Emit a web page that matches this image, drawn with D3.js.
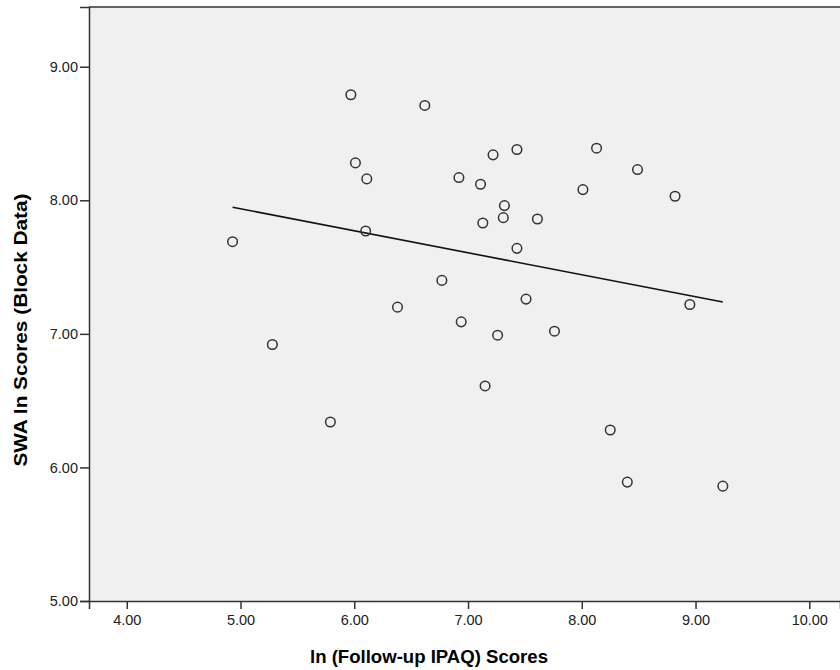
<!DOCTYPE html>
<html lang="en">
<head>
    <meta charset="UTF-8">
    <title>SWA vs IPAQ scatter</title>
    <style>
        body { margin: 0; background: #fff; font-family: "Liberation Sans", Arial, sans-serif; }
        .tick text { font-size: 14.5px; fill: #222; }
        .axis path, .axis line { stroke: #333; stroke-width: 1.5px; }
        .title { font-weight: bold; fill: #000; }
    </style>
</head>
<body>
    <svg width="840" height="670"></svg>
    <script src="https://d3js.org/d3.v7.min.js"></script>
    <script>
        // ln follow-up IPAQ scores (x) and SWA ln scores (y)
        const ipaq = [4.93, 5.28, 5.79, 5.97, 6.01, 6.11, 6.10, 6.38, 6.62, 6.77, 6.92,
                      6.94, 7.11, 7.13, 7.22, 7.15, 7.31, 7.32, 7.26, 7.43, 7.43, 7.61,
                      7.51, 7.76, 8.01, 8.13, 8.49, 8.25, 8.40, 8.82, 8.95, 9.24];
        const swa  = [7.69, 6.92, 6.34, 8.79, 8.28, 8.16, 7.77, 7.20, 8.71, 7.40, 8.17,
                      7.09, 8.12, 7.83, 8.34, 6.61, 7.87, 7.96, 6.99, 8.38, 7.64, 7.86,
                      7.26, 7.02, 8.08, 8.39, 8.23, 6.28, 5.89, 8.03, 7.22, 5.86];
        const xTicks = [4, 5, 6, 7, 8, 9, 10];
        const yTicks = [5, 6, 7, 8, 9];

        const margin = { left: 89, right: 0, top: 7, bottom: 69 };
        const width = 840, height = 670;

        const svg = d3.select("svg");

        const x = d3.scaleLinear().domain([3.668, 10.27]).range([margin.left, width - margin.right]);
        const y = d3.scaleLinear().domain([5, 9.447]).range([height - margin.bottom, margin.top]);

        // plot background
        svg.append("rect")
            .attr("x", x.range()[0]).attr("y", y.range()[1])
            .attr("width", x.range()[1] - x.range()[0] + 2)
            .attr("height", y.range()[0] - y.range()[1])
            .attr("fill", "#f0f0f0");

        // top border
        svg.append("line")
            .attr("x1", x.range()[0]).attr("x2", width)
            .attr("y1", y.range()[1]).attr("y2", y.range()[1])
            .attr("stroke", "#333").attr("stroke-width", 1.5);

        const fmt = d3.format(".2f");

        svg.append("g").attr("class", "axis")
            .attr("transform", `translate(0,${y.range()[0]})`)
            .call(d3.axisBottom(x).tickValues(xTicks).tickFormat(fmt).tickSizeOuter(0).tickSize(8).tickPadding(6));

        svg.append("g").attr("class", "axis")
            .attr("transform", `translate(${x.range()[0]},0)`)
            .call(d3.axisLeft(y).tickValues(yTicks).tickFormat(fmt).tickSizeOuter(0).tickSize(9).tickPadding(2));

        // least squares fit line over the data range
        const pts = ipaq.map((v, i) => [v, swa[i]]);
        const mx = d3.mean(ipaq), my = d3.mean(swa);
        const slope = d3.sum(pts, p => (p[0] - mx) * (p[1] - my)) / d3.sum(pts, p => (p[0] - mx) ** 2);
        const icpt = my - slope * mx;
        const [x0, x1] = d3.extent(ipaq);

        svg.append("line")
            .attr("x1", x(x0)).attr("y1", y(icpt + slope * x0))
            .attr("x2", x(x1)).attr("y2", y(icpt + slope * x1))
            .attr("stroke", "#111").attr("stroke-width", 1.6);

        svg.append("g").selectAll("circle")
            .data(pts)
            .join("circle")
            .attr("cx", d => x(d[0]))
            .attr("cy", d => y(d[1]))
            .attr("r", 4.8)
            .attr("fill", "none")
            .attr("stroke", "#333")
            .attr("stroke-width", 1.5);

        svg.append("text").attr("class", "title")
            .attr("x", 429).attr("y", 663)
            .attr("text-anchor", "middle")
            .style("font-size", "18.5px")
            .attr("textLength", 238).attr("lengthAdjust", "spacingAndGlyphs")
            .text("ln (Follow-up IPAQ) Scores");

        svg.append("text").attr("class", "title")
            .attr("transform", "translate(27,330) rotate(-90)")
            .attr("text-anchor", "middle")
            .style("font-size", "19px")
            .attr("textLength", 273).attr("lengthAdjust", "spacingAndGlyphs")
            .text("SWA ln Scores (Block Data)");
    </script>
</body>
</html>
